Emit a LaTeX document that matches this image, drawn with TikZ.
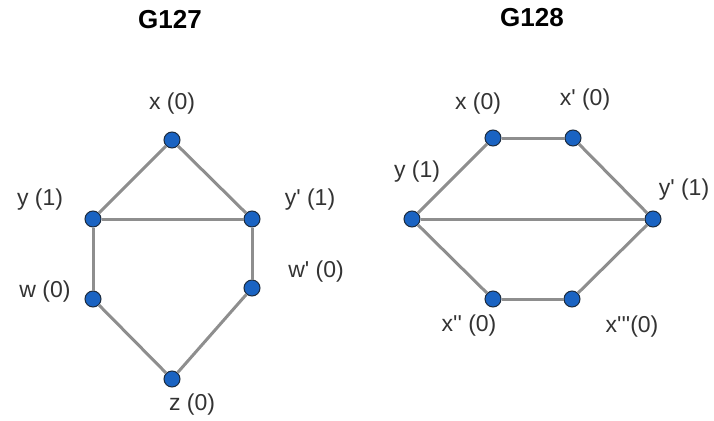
\documentclass[tikz,border=0pt]{standalone}
\usepackage{fontspec}
\setmainfont{Liberation Sans}[Ligatures=TeXOff]
\usetikzlibrary{positioning}
\definecolor{vblue}{HTML}{1A63C2}
\definecolor{vrim}{HTML}{1C2B3E}
\definecolor{edgegray}{HTML}{8E8E8E}
\definecolor{ink}{HTML}{333333}

\begin{document}
\begin{tikzpicture}[x=1pt,y=-1pt, vertex/.style={circle,draw=vrim,fill=vblue,line width=1pt,minimum size=16pt,inner sep=0pt}, link/.style={edgegray,line width=3pt}, lbl/.style={font=\fontsize{23}{26}\selectfont,color=ink,inner sep=0pt}, title/.style={font=\fontsize{26}{30}\selectfont\bfseries,color=black,inner sep=0pt}]
  \useasboundingbox (0,0) rectangle (714,420);
  % G127
  \node[title] (t127) at (170,20) {G127};
  \foreach \n/\x/\y in {x/172/140,y/93/219,yp/252/219,w/93/299,wp/252/288,z/172/379}{\node[vertex] (a\n) at (\x,\y) {};}
  \foreach \a/\b in {x/y,x/yp,y/yp,y/w,yp/wp,w/z,wp/z}{\draw[link] (a\a)--(a\b);}
  \foreach \n/\x/\y/\t in {x/172/104/{x (0)},y/40/200/{y (1)},yp/310/200/{y' (1)},w/45/292/{w (0)},wp/316/272/{w' (0)},z/192/405/{z (0)}}{\node[lbl] (la\n) at (\x,\y) {\t};}
  % G128
  \node[title] (t128) at (532,18) {G128};
  \foreach \n/\x/\y in {x/493/138,xp/573/138,y/412/219,yp/653/219,xpp/493/299,xppp/572/299}{\node[vertex] (b\n) at (\x,\y) {};}
  \foreach \a/\b in {x/xp,x/y,xp/yp,y/yp,y/xpp,yp/xppp,xpp/xppp}{\draw[link] (b\a)--(b\b);}
  \foreach \n/\x/\y/\t in {x/478/104/{x (0)},xp/585/100/{x' (0)},y/417/172/{y (1)},yp/684/190/{y' (1)},xpp/469/326/{x'' (0)},xppp/632/327/{x'''(0)}}{\node[lbl] (lb\n) at (\x,\y) {\t};}
\end{tikzpicture}
\end{document}
